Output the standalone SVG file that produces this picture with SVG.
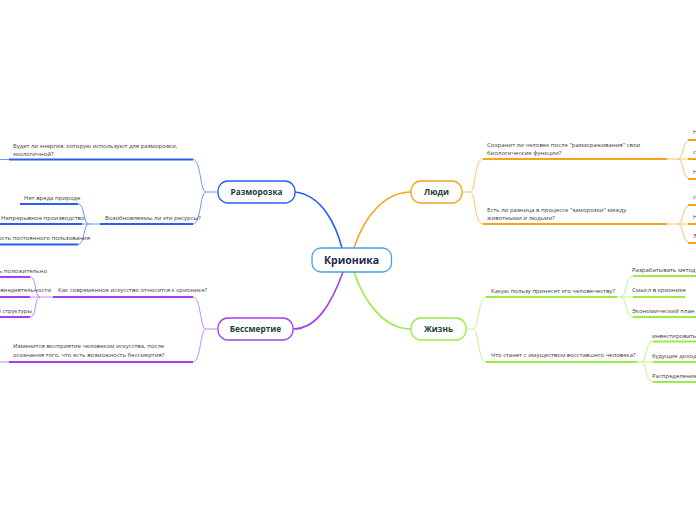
<svg xmlns="http://www.w3.org/2000/svg" width="696" height="520" viewBox="0 0 696 520">
<style>
.t{font-family:"Open Sans","DejaVu Sans",sans-serif;font-size:6px;fill:#3a3a3a}
.n{font-family:"Open Sans","DejaVu Sans",sans-serif;font-size:8.3px;font-weight:bold;fill:#1b3f35;text-anchor:middle}
.c{font-family:"Open Sans","DejaVu Sans",sans-serif;font-size:10.5px;font-weight:bold;fill:#1c2a48;text-anchor:middle}
.bo{fill:none;stroke:#f7a21b;stroke-width:2}
.bol{fill:none;stroke:#fbc46e;stroke-width:1}
.bb{fill:none;stroke:#2a5ff0;stroke-width:2}
.bbl{fill:none;stroke:#6f95f7;stroke-width:1}
.bp{fill:none;stroke:#a53df0;stroke-width:2}
.bpl{fill:none;stroke:#c98af7;stroke-width:1}
.bg{fill:none;stroke:#98ec45;stroke-width:2}
.bgl{fill:none;stroke:#c1f48c;stroke-width:1}
</style>
<rect width="696" height="520" fill="#fff"/>
<g id="connectors">
<path d="M295,192 C322,195 336,225 342,248" fill="none" stroke="#2a5ff0" stroke-width="1.6"/>
<path d="M354,248 C365,214 386,192 411,192" fill="none" stroke="#f7a21b" stroke-width="1.6"/>
<path d="M343,272 C331,305 316,329 293,329" fill="none" stroke="#a53df0" stroke-width="1.6"/>
<path d="M354,272 C365,305 386,329 411,329" fill="none" stroke="#98ec45" stroke-width="1.6"/>
<path class="bol" d="M462,192 H470 C476,192 474,159 483,159 M470,192 C476,192 474,224 483,224"/>
<path class="bo" d="M483,159 H667 M483,224 H667"/>
<path class="bol" d="M667,159 H678 C684,159 682,140 690,140 M678,159 H690 M678,159 C684,159 682,179 690,179"/>
<path class="bol" d="M667,224 H678 C684,224 682,205 690,205 M678,224 H690 M678,224 C684,224 682,243 690,243"/>
<path class="bo" d="M688,140 H696 M688,159 H696 M688,179 H696 M688,205 H696 M688,224 H696 M688,243 H696"/>
<path class="bgl" d="M466,329 H473 C479,329 478,297 486,297 M473,329 C479,329 478,362 486,362"/>
<path class="bg" d="M486,297 H617 M486,362 H637"/>
<path class="bgl" d="M617,297 H621 C627,297 625,276 633,276 M621,297 H633 M621,297 C627,297 625,317 633,317"/>
<path class="bg" d="M633,276 H696 M633,297 H685 M633,317 H696"/>
<path class="bgl" d="M637,362 H641 C647,362 645,341.5 653,341.5 M641,362 H653 M641,362 C647,362 645,382 653,382"/>
<path class="bg" d="M653,341.5 H696 M653,362 H696 M653,382 H696"/>
<path class="bbl" d="M218,192 H206 C200,192 201,159.5 193,159.5 M206,192 C200,192 201,224 193,224"/>
<path class="bb" d="M9,159.5 H193 M100,224 H193"/>
<path class="bbl" d="M0,159.5 H9 M100,224 H89 C83,224 85,204 78,204 M89,224 H82 M89,224 C83,224 85,244.5 78,244.5"/>
<path class="bb" d="M20,204 H78 M0,224 H82 M0,244.5 H78"/>
<path class="bpl" d="M218,329 H206 C200,329 201,297 193,297 M206,329 C200,329 201,362 193,362"/>
<path class="bp" d="M53,297 H193 M9,362 H193"/>
<path class="bpl" d="M0,362 H9 M53,297 H40 C34,297 37,277 30,277 M40,297 H30 M40,297 C34,297 37,317 30,317"/>
<path class="bp" d="M0,277 H30 M0,297 H30 M0,317 H30"/>
</g>
<g id="center"><rect x="312" y="248" width="79.5" height="24" rx="9" fill="#fff" stroke="#4a9fdc" stroke-width="1.3"/><text class="c" x="351.5" y="263.8">Крионика</text></g>
<g id="ludi"><rect x="411" y="181" width="51" height="22" rx="10" fill="#fff" stroke="#f7a21b" stroke-width="1.3"/><text class="n" x="436.5" y="195">Люди</text></g>
<g id="zhizn"><rect x="411" y="318" width="55" height="22" rx="10" fill="#fff" stroke="#98ec45" stroke-width="1.3"/><text class="n" x="438.5" y="332">Жизнь</text></g>
<g id="razmorozka"><rect x="218" y="181" width="77" height="22" rx="10" fill="#fff" stroke="#2a5ff0" stroke-width="1.3"/><text class="n" x="256.5" y="195">Разморозка</text></g>
<g id="bessmertie"><rect x="218" y="318" width="75" height="22" rx="10" fill="#fff" stroke="#a53df0" stroke-width="1.3"/><text class="n" x="255.5" y="332">Бессмертие</text></g>
<g id="q1"><text class="t" x="487" y="146.5">Сохранит ли человек после "размораживания" свои</text><text class="t" x="487" y="154.5">биологические функции?</text></g>
<g id="q1a"><text class="t" x="693" y="134">Н</text></g>
<g id="q1b"><text class="t" x="693" y="154">с</text></g>
<g id="q1c"><text class="t" x="693" y="174">Н</text></g>
<g id="q2"><text class="t" x="487" y="211.5">Есть ли разница в процессе "заморозки" между</text><text class="t" x="487" y="219.5">животными и людьми?</text></g>
<g id="q2a"><text class="t" x="693" y="199">с</text></g>
<g id="q2b"><text class="t" x="693" y="219">Н</text></g>
<g id="q2c"><text class="t" x="693" y="238">З</text></g>
<g id="q3"><text class="t" x="491" y="292.5">Какую пользу принесет это человечеству?</text></g>
<g id="q3a"><text class="t" x="632" y="272">Разрабатывать метод</text></g>
<g id="q3b"><text class="t" x="632" y="292">Смысл в крионике</text></g>
<g id="q3c"><text class="t" x="632" y="313">Экономический план</text></g>
<g id="q4"><text class="t" x="491" y="357">Что станет  с имуществом восставшего человека?</text></g>
<g id="q4a"><text class="t" x="652" y="337.5">инвестировать</text></g>
<g id="q4b"><text class="t" x="652" y="357.5">будущие доход</text></g>
<g id="q4c"><text class="t" x="652" y="377.5">Распределение</text></g>
<g id="q5"><text class="t" x="13" y="147.5">Будет ли энергия, которую используют для разморозки,</text><text class="t" x="13" y="155.5">экологичной?</text></g>
<g id="q6"><text class="t" x="105" y="219.5">Возобновляемы ли эти ресурсы?</text></g>
<g id="q6a"><text class="t" x="24" y="199.5">Нет вреда природе</text></g>
<g id="q6b"><text class="t" x="1" y="219.5">Непрерывное производство</text></g>
<g id="q6c"><text class="t" x="90" y="239.5" text-anchor="end">Возможность постоянного пользования</text></g>
<g id="q7"><text class="t" x="58" y="292">Как современное искусство относится к крионике?</text></g>
<g id="q7a"><text class="t" x="47" y="272.5" text-anchor="end">ь положительно</text></g>
<g id="q7b"><text class="t" x="51" y="292" text-anchor="end">внедеятельности</text></g>
<g id="q7c"><text class="t" x="32" y="312.5" text-anchor="end">и структуры</text></g>
<g id="q8"><text class="t" x="13" y="348">Изменится восприятие человеком искусства, после</text><text class="t" x="13" y="356.5">осознания того, что есть возможность бессмертия?</text></g>
</svg>
